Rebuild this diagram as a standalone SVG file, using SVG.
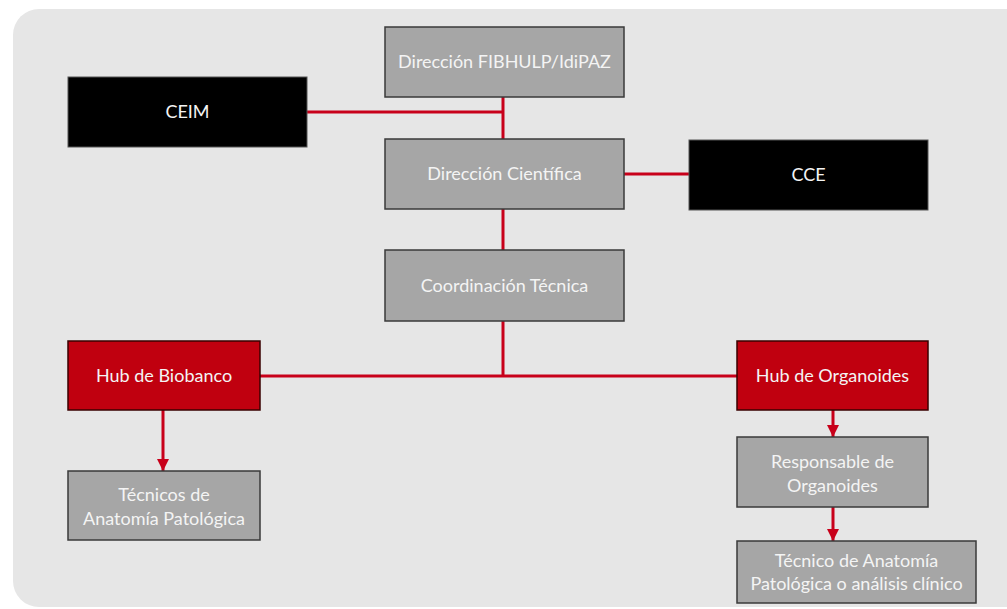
<svg xmlns="http://www.w3.org/2000/svg" width="1007" height="609" viewBox="0 0 1007 609">
<style>
.g{fill:#a6a6a6;stroke:#3a3a3a;stroke-width:1.5}
.k{fill:#000;stroke:#555;stroke-width:1}
.r{fill:#c0000f;stroke:#3a0000;stroke-width:1.5}
.t{font-family:Lato,"Liberation Sans",sans-serif;font-size:18px;fill:#f4f4f4;text-anchor:middle}
.c{stroke:#c8001a;stroke-width:3;fill:none}
</style>
<defs>
<marker id="ah" viewBox="0 0 10 10" refX="10" refY="5" markerWidth="4" markerHeight="4" orient="auto" markerUnits="strokeWidth">
<path d="M0,0 L10,5 L0,10 z" fill="#c8001a"/>
</marker>
</defs>
<rect x="0" y="0" width="1007" height="609" fill="#fff"/>
<rect x="13" y="9" width="1030" height="598" rx="26" fill="#e6e6e6"/>
<g id="connectors">
<path class="c" d="M503,97 V139"/>
<path class="c" d="M307,112 H503"/>
<path class="c" d="M624,174 H689"/>
<path class="c" d="M503,209 V250"/>
<path class="c" d="M503,321 V376"/>
<path class="c" d="M260,376 H737"/>
<path class="c" d="M163,410 V471" marker-end="url(#ah)"/>
<path class="c" d="M833,410 V437" marker-end="url(#ah)"/>
<path class="c" d="M833,507 V541" marker-end="url(#ah)"/>
</g>
<g id="n-fibhulp"><rect class="g" x="385" y="27" width="239" height="70"/><text class="t" x="504.5" y="68">Dirección FIBHULP/IdiPAZ</text></g>
<g id="n-ceim"><rect class="k" x="68" y="77" width="239" height="70"/><text class="t" x="187.5" y="118">CEIM</text></g>
<g id="n-cientifica"><rect class="g" x="385" y="139" width="239" height="70"/><text class="t" x="504.5" y="180">Dirección Científica</text></g>
<g id="n-cce"><rect class="k" x="689" y="140" width="239" height="70"/><text class="t" x="808.5" y="181">CCE</text></g>
<g id="n-coord"><rect class="g" x="385" y="250" width="239" height="71"/><text class="t" x="504.5" y="292">Coordinación Técnica</text></g>
<g id="n-biobanco"><rect class="r" x="68" y="341" width="192" height="69"/><text class="t" x="164" y="382">Hub de Biobanco</text></g>
<g id="n-organoides"><rect class="r" x="737" y="341" width="191" height="69"/><text class="t" x="832.5" y="382">Hub de Organoides</text></g>
<g id="n-tecnicos"><rect class="g" x="68" y="471" width="192" height="69"/><text class="t" x="164" y="501">Técnicos de</text><text class="t" x="164" y="525">Anatomía Patológica</text></g>
<g id="n-responsable"><rect class="g" x="737" y="437" width="191" height="70"/><text class="t" x="832.5" y="468">Responsable de</text><text class="t" x="832.5" y="492">Organoides</text></g>
<g id="n-tecnico"><rect class="g" x="737" y="541" width="239" height="62"/><text class="t" x="856.5" y="567">Técnico de Anatomía</text><text class="t" x="856.5" y="590">Patológica o análisis clínico</text></g>
</svg>
